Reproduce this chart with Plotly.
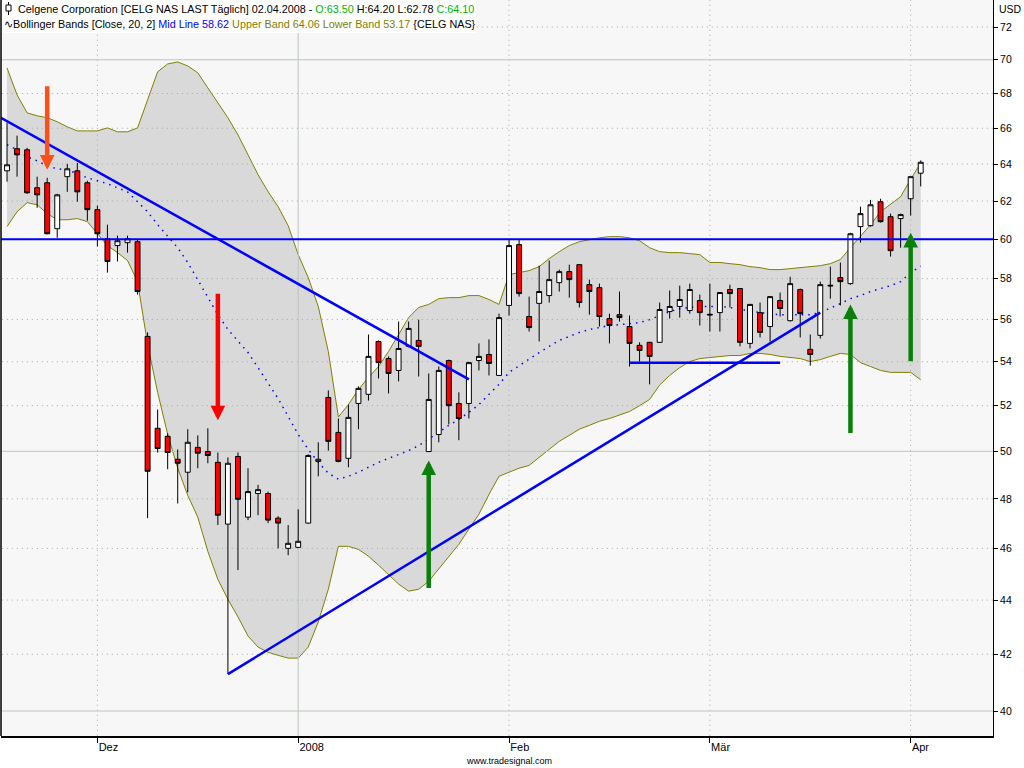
import math
import plotly.graph_objects as go

# ---------------- data ----------------
month_days = {
    "2007-11": [19, 20, 21, 23, 26, 27, 28, 29, 30],
    "2007-12": [3, 4, 5, 6, 7, 10, 11, 12, 13, 14, 17, 18, 19, 20, 21, 24, 26, 27, 28, 31],
    "2008-01": [2, 3, 4, 7, 8, 9, 10, 11, 14, 15, 16, 17, 18, 22, 23, 24, 25, 28, 29, 30, 31],
    "2008-02": [1, 4, 5, 6, 7, 8, 11, 12, 13, 14, 15, 19, 20, 21, 22, 25, 26, 27, 28, 29],
    "2008-03": [3, 4, 5, 6, 7, 10, 11, 12, 13, 14, 17, 18, 19, 20, 24, 25, 26, 27, 28, 31],
    "2008-04": [1, 2],
}
dates = [f"{m}-{d:02d}" for m, days in month_days.items() for d in days]

open_ = [63.63, 64.85, 64.79, 62.71, 62.98, 60.54, 63.31, 63.63, 62.98, 61.54,
         60.02, 59.67, 59.82, 59.87, 55.19, 51.00, 50.65, 49.66, 49.11, 50.17,
         49.99, 49.53, 46.97, 49.78, 47.25, 48.22, 48.22, 47.21, 46.00, 46.04,
         47.01, 49.57, 52.37, 50.82, 49.70, 52.10, 52.51, 54.95, 54.15, 53.60,
         54.72, 55.00, 49.99, 50.73, 54.06, 52.10, 52.10, 54.06, 54.34, 53.37,
         56.68, 59.72, 56.14, 56.78, 57.16, 57.80, 58.35, 58.70, 57.70, 57.55,
         56.04, 56.23, 55.66, 54.77, 54.91, 54.91, 56.38, 56.63, 56.43, 56.92,
         56.25, 56.33, 57.46, 57.51, 54.86, 56.33, 55.66, 56.92, 55.94, 57.46,
         54.58, 55.24, 57.67, 58.05, 57.75, 60.65, 60.70, 61.96, 61.17, 61.07,
         62.12, 63.50]
high = [66.31, 65.58, 64.90, 63.31, 63.25, 62.38, 64.01, 64.06, 63.09, 61.75,
        60.75, 60.18, 60.18, 59.97, 55.38, 51.83, 50.78, 50.08, 50.96, 50.69,
        51.00, 49.95, 49.74, 49.95, 49.28, 48.58, 48.30, 47.29, 46.93, 47.57,
        49.87, 50.39, 52.69, 51.43, 52.05, 52.87, 55.28, 55.00, 54.25, 55.90,
        55.90, 55.99, 53.46, 53.78, 54.10, 52.60, 54.00, 54.86, 55.05, 56.28,
        59.97, 59.97, 57.11, 58.65, 58.91, 58.45, 58.70, 58.72, 57.95, 57.75,
        56.28, 57.36, 56.19, 54.91, 54.93, 56.82, 57.41, 57.65, 57.75, 57.21,
        57.75, 57.33, 57.70, 57.53, 56.75, 56.82, 57.13, 57.31, 58.09, 57.51,
        55.28, 57.85, 58.60, 58.81, 60.33, 61.70, 62.06, 62.12, 61.33, 61.33,
        63.33, 64.20]
low = [63.04, 63.31, 62.38, 61.64, 60.25, 60.07, 62.49, 61.96, 60.96, 59.62,
       58.30, 58.86, 59.31, 57.21, 47.21, 49.95, 49.24, 47.81, 48.27, 49.28,
       49.49, 46.93, 41.29, 45.15, 47.13, 47.33, 47.01, 46.00, 45.73, 46.02,
       46.99, 48.94, 50.03, 49.53, 49.32, 50.96, 52.23, 53.23, 52.55, 53.10,
       54.67, 53.32, 49.97, 50.39, 51.17, 50.48, 51.43, 53.60, 53.37, 53.35,
       56.19, 57.11, 55.42, 54.95, 56.82, 57.36, 57.06, 56.58, 56.23, 55.66,
       54.86, 55.90, 53.78, 54.01, 52.96, 54.89, 56.04, 56.09, 56.28, 55.71,
       55.42, 55.42, 56.58, 54.72, 54.62, 55.14, 54.95, 56.14, 55.90, 55.14,
       53.82, 55.09, 57.01, 56.68, 57.70, 59.82, 60.65, 60.86, 59.11, 59.56,
       61.23, 62.78]
close = [63.96, 64.51, 62.44, 62.33, 60.28, 62.33, 63.74, 62.49, 61.54, 60.28,
         58.86, 59.92, 60.02, 57.36, 49.15, 50.12, 49.95, 49.49, 50.39, 49.92,
         49.82, 47.33, 49.49, 47.98, 48.30, 48.38, 47.13, 47.01, 46.20, 46.28,
         49.82, 49.66, 50.43, 49.57, 51.48, 52.78, 54.25, 53.96, 53.46, 54.62,
         55.57, 54.72, 52.28, 53.60, 52.00, 51.43, 53.96, 54.25, 53.92, 56.09,
         59.67, 57.26, 55.61, 57.36, 57.95, 58.35, 57.95, 56.82, 57.36, 56.14,
         55.71, 56.09, 54.86, 54.53, 54.25, 56.48, 56.63, 56.97, 57.46, 56.33,
         56.22, 57.31, 57.26, 54.91, 56.73, 55.38, 57.11, 56.53, 57.75, 56.28,
         54.34, 57.70, 57.64, 57.85, 60.28, 61.33, 61.80, 60.91, 59.41, 61.28,
         63.31, 64.10]

bb_upper = [69.51, 67.92, 66.88, 66.71, 66.60, 66.37, 66.08, 65.85, 65.85, 65.85,
            66.02, 65.80, 65.80, 66.02, 67.63, 69.28, 69.75, 69.87, 69.63, 69.22,
            68.33, 67.46, 66.60, 65.63, 64.51, 63.42, 62.50, 61.70, 60.70, 59.21,
            58.05, 56.63, 54.48, 51.50, 52.05, 52.73, 53.28, 53.78, 54.48, 55.28,
            56.09, 56.58, 56.73, 57.01, 57.06, 57.06, 57.16, 57.16, 56.97, 56.73,
            58.20, 58.30, 58.40, 58.60, 59.01, 59.36, 59.67, 59.87, 59.97, 60.07,
            60.13, 60.13, 60.07, 59.92, 59.56, 59.36, 59.31, 59.31, 59.26, 59.21,
            58.81, 58.81, 58.75, 58.70, 58.60, 58.55, 58.45, 58.45, 58.50, 58.55,
            58.60, 58.65, 58.75, 58.96, 59.56, 60.13, 60.75, 61.43, 61.85, 62.23,
            63.17, 64.06]
bb_lower = [60.65, 61.43, 61.91, 61.80, 61.33, 61.01, 61.01, 61.07, 60.91, 60.28,
            59.67, 59.31, 58.91, 57.85, 54.82, 52.60, 50.74, 49.28, 48.14, 47.25,
            45.88, 44.79, 44.03, 43.37, 42.66, 42.26, 42.07, 41.96, 41.86, 41.86,
            42.26, 43.18, 44.41, 46.08, 46.08, 45.96, 45.69, 45.34, 44.96, 44.61,
            44.34, 44.41, 44.72, 45.19, 45.69, 46.16, 46.77, 47.37, 48.18, 48.94,
            49.11, 49.28, 49.40, 49.74, 50.08, 50.43, 50.69, 50.96, 51.13, 51.31,
            51.43, 51.57, 51.74, 52.00, 52.28, 52.93, 53.37, 53.73, 54.01, 54.15,
            54.20, 54.25, 54.29, 54.29, 54.39, 54.39, 54.34, 54.25, 54.20, 54.15,
            54.01, 54.10, 54.25, 54.39, 54.34, 53.96, 53.78, 53.60, 53.51, 53.51,
            53.51, 53.17]
bb_mid = [65.07, 64.79, 64.40, 64.18, 63.90, 63.74, 63.69, 63.47, 63.25, 63.09,
          62.93, 62.71, 62.49, 61.96, 61.43, 60.75, 60.13, 59.56, 58.81, 57.95,
          57.11, 56.23, 55.52, 54.95, 54.43, 53.73, 53.01, 52.32, 51.52, 50.73,
          50.08, 49.53, 49.07, 48.82, 48.94, 49.11, 49.32, 49.53, 49.70, 49.87,
          50.03, 50.25, 50.52, 50.82, 51.13, 51.39, 51.70, 52.05, 52.51, 52.96,
          53.51, 53.82, 54.15, 54.43, 54.72, 55.00, 55.19, 55.38, 55.52, 55.61,
          55.71, 55.75, 55.80, 55.85, 55.99, 56.19, 56.38, 56.53, 56.58, 56.63,
          56.63, 56.63, 56.58, 56.48, 56.43, 56.33, 56.28, 56.23, 56.23, 56.23,
          56.23, 56.33, 56.53, 56.77, 57.01, 57.16, 57.36, 57.51, 57.65, 57.85,
          58.30, 58.62]

month_labels = ["Dez", "2008", "Feb", "Mär", "Apr"]
y_ticks = list(range(40, 73, 2))

# drawn studies (index of bar, price)
trend_down_x = [-0.6, 46]
trend_down_y = [66.60, 53.19]
trend_up_x = [22, 81]
trend_up_y = [41.29, 56.33]
resistance = 60.0
support_x = [62, 77]
support_y = 53.96

arrow_idx = [4, 21, 42, 84, 90]
arrow_tip = [63.69, 51.35, 49.61, 56.73, 60.33]
arrow_len = [-85, -128, 129, 130, 130]
arrow_col = ["#ff4f17", "#ff0000", "#0a800a", "#0a800a", "#0a800a"]

# ---------------- figure ----------------
x = list(range(len(dates)))
tick_idx = [i for i in range(1, len(dates)) if dates[i][:7] != dates[i - 1][:7]]

W, H = 1024, 768
ML, MR, MT, MB = 1, 31, 0, 32
PW, PH = W - ML - MR, H - MT - MB
Y_RANGE = [math.log10(39.15), math.log10(73.69)]


def px_x(p):
    return (p - ML) / PW


def px_y(p):
    return 1 - (p - MT) / PH


fig = go.Figure()

# Bollinger band fill (base subplot)
fig.add_trace(go.Scatter(x=x, y=bb_upper, mode="lines",
                         line=dict(color="#808000", width=1), hoverinfo="skip"))
fig.add_trace(go.Scatter(x=x, y=bb_lower, mode="lines",
                         line=dict(color="#808000", width=1), fill="tonexty",
                         fillcolor="#d9d9d9", hoverinfo="skip"))

# grid lines (drawn over the band)
gx_dot, gy_dot, gx_sol, gy_sol = [], [], [], []
for v in y_ticks:
    if v % 10 == 0:
        gx_sol += [-5, 110, None]
        gy_sol += [v, v, None]
    else:
        gx_dot += [-5, 110, None]
        gy_dot += [v, v, None]
vx_dot, vy_dot, vx_sol, vy_sol = [], [], [], []
for t, lab in zip(tick_idx, month_labels):
    if lab.isdigit():
        vx_sol += [t, t, None]
        vy_sol += [30, 80, None]
    else:
        vx_dot += [t, t, None]
        vy_dot += [30, 80, None]
fig.add_trace(go.Scatter(x=gx_dot + vx_dot, y=gy_dot + vy_dot, mode="lines",
                         line=dict(color="#a0a8a0", width=1, dash="1px,4px"),
                         hoverinfo="skip"))
fig.add_trace(go.Scatter(x=gx_sol + vx_sol, y=gy_sol + vy_sol, mode="lines",
                         line=dict(color="#bcc6bc", width=1), hoverinfo="skip"))

# mid line
fig.add_trace(go.Scatter(x=x, y=bb_mid, mode="lines",
                         line=dict(color="#0000ff", width=1.5, dash="1.5px,5px"),
                         hoverinfo="skip"))

# candles (overlay subplot so they sit above the band fill)
fig.add_trace(go.Candlestick(
    x=x, open=open_, high=high, low=low, close=close, yaxis="y2",
    increasing=dict(fillcolor="#ffffff", line=dict(color="#000000", width=1)),
    decreasing=dict(fillcolor="#ff0000", line=dict(color="#000000", width=1)),
    whiskerwidth=0, hoverinfo="skip"))

# drawn lines
blue = "#0000ff"
fig.add_trace(go.Scatter(x=[-5, 110], y=[resistance, resistance], mode="lines", yaxis="y2",
                         line=dict(color=blue, width=2), hoverinfo="skip"))
fig.add_trace(go.Scatter(x=trend_down_x, y=trend_down_y, mode="lines", yaxis="y2",
                         line=dict(color=blue, width=2.5), hoverinfo="skip"))
fig.add_trace(go.Scatter(x=trend_up_x, y=trend_up_y, mode="lines", yaxis="y2",
                         line=dict(color=blue, width=2.5), hoverinfo="skip"))
fig.add_trace(go.Scatter(x=support_x, y=[support_y, support_y], mode="lines", yaxis="y2",
                         line=dict(color=blue, width=2.5), hoverinfo="skip"))

annotations = []
for i, p, L, c in zip(arrow_idx, arrow_tip, arrow_len, arrow_col):
    annotations.append(dict(x=i, y=math.log10(p), xref="x", yref="y", text="",
                            showarrow=True, ax=0, ay=L, axref="pixel", ayref="pixel",
                            arrowhead=2, arrowsize=0.65, arrowwidth=4.5,
                            arrowcolor=c, standoff=0))

font = "Liberation Sans, Arial, sans-serif"
line1 = ("Celgene Corporation [CELG NAS LAST Täglich] 02.04.2008 - "
         f"<span style='color:#00b400'>O:{open_[-1]:.2f}</span> "
         f"H:{high[-1]:.2f} L:{low[-1]:.2f} "
         f"<span style='color:#00b400'>C:{close[-1]:.2f}</span>")
line2 = ("∿Bollinger Bands [Close, 20, 2] "
         f"<span style='color:#0000ff'>Mid Line {bb_mid[-1]:.2f}</span> "
         f"<span style='color:#808000'>Upper Band {bb_upper[-1]:.2f} "
         f"Lower Band {bb_lower[-1]:.2f}</span> {{CELG NAS}}")
annotations.append(dict(x=px_x(16), y=px_y(9), xref="paper", yref="paper",
                        xanchor="left", yanchor="middle", showarrow=False,
                        text=line1, font=dict(family=font, size=10.8, color="#000")))
annotations.append(dict(x=px_x(2), y=px_y(24), xref="paper", yref="paper",
                        xanchor="left", yanchor="middle", showarrow=False,
                        text=line2, font=dict(family=font, size=10.8, color="#000")))
annotations.append(dict(x=px_x(997), y=px_y(9), xref="paper", yref="paper",
                        xanchor="left", yanchor="middle", showarrow=False,
                        text="USD", font=dict(family=font, size=10.5, color="#000")))
annotations.append(dict(x=px_x(509), y=px_y(761), xref="paper", yref="paper",
                        xanchor="center", yanchor="middle", showarrow=False,
                        text="www.tradesignal.com",
                        font=dict(family="Liberation Sans Narrow, Liberation Sans, sans-serif",
                                  size=9, color="#000")))

shapes = [
    # white header box
    dict(type="rect", xref="paper", yref="paper", x0=px_x(1), x1=px_x(476),
         y0=px_y(33), y1=px_y(0), fillcolor="#ffffff", line=dict(width=0), layer="above"),
    # candle icon
    dict(type="line", xref="paper", yref="paper", x0=px_x(8.5), x1=px_x(8.5),
         y0=px_y(2), y1=px_y(15), line=dict(color="#000", width=1), layer="above"),
    dict(type="rect", xref="paper", yref="paper", x0=px_x(6), x1=px_x(11),
         y0=px_y(11), y1=px_y(5), fillcolor="#ffffff", line=dict(color="#000", width=1),
         layer="above"),
    # left border
    dict(type="line", xref="paper", yref="paper", x0=0, x1=0, y0=0, y1=1,
         line=dict(color="#000", width=1.5), layer="above"),
]

fig.update_layout(
    width=W, height=H,
    margin=dict(l=ML, r=MR, t=MT, b=MB),
    paper_bgcolor="#ffffff", plot_bgcolor="#f7f7f7",
    showlegend=False,
    annotations=annotations, shapes=shapes,
    xaxis=dict(range=[-0.6, 98.2], tickmode="array", tickvals=tick_idx,
               ticktext=month_labels, showgrid=False, zeroline=False,
               showline=True, linecolor="#000", linewidth=1.5,
               ticks="outside", ticklen=5, tickcolor="#000",
               ticklabelposition="outside right",
               tickfont=dict(family="Liberation Sans Narrow, Liberation Sans, sans-serif",
                             size=11, color="#000"),
               rangeslider=dict(visible=False), fixedrange=True),
    yaxis=dict(type="log", side="right", range=Y_RANGE,
               tickmode="array", tickvals=y_ticks, ticktext=[str(v) for v in y_ticks],
               showgrid=False, zeroline=False, showline=True, linecolor="#000",
               linewidth=1, ticks="outside", ticklen=4, tickcolor="#000",
               tickfont=dict(family=font, size=10.5, color="#000"), fixedrange=True),
    yaxis2=dict(type="log", range=Y_RANGE, overlaying="y", side="right",
                visible=False, showgrid=False, zeroline=False, fixedrange=True),
)

fig.write_html("out.html", config={"displayModeBar": False},
               post_script="document.body.style.margin='0px';")
